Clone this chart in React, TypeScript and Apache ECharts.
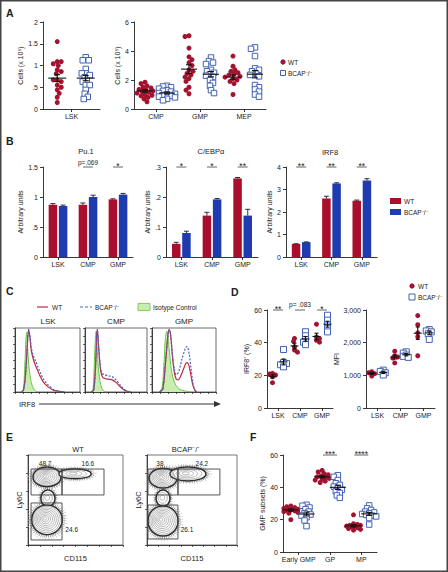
import React, { useEffect, useRef } from "react";
import * as echarts from "echarts";

const FONT = "'Liberation Sans', Arial, Helvetica, sans-serif";
const INK = "#222222";
const WT_RED = "#A3122E";
const BCAP_BLUE = "#4262B4";
const BAR_RED = "#A90F2D";
const BAR_BLUE = "#1E3CB0";
const HIST_RED = "#C0283C";
const HIST_BLUE = "#4A64C0";

// ---------------- Panel A ----------------
const aLskGroups = ["LSK"];
const aLskWT = [[1.55, 1.09, 1.09, 1.04, 1.0, 0.9, 0.86, 0.81, 0.67, 0.67, 0.63, 0.55, 0.5, 0.44, 0.36, 0.27, 0.15]];
const aLskBCAP = [[1.19, 1.12, 1.12, 0.92, 0.82, 0.82, 0.78, 0.73, 0.65, 0.63, 0.55, 0.55, 0.44, 0.35, 0.28, 0.23]];
const aLskWTMean = [0.71];
const aLskWTSem = [0.08];
const aLskBCAPMean = [0.71];
const aLskBCAPSem = [0.06];

const aProgGroups = ["CMP", "GMP", "MEP"];
const aProgWT = [
  [1.85, 1.75, 1.6, 1.5, 1.45, 1.35, 1.3, 1.25, 1.2, 1.15, 1.1, 1.0, 0.95, 0.9, 0.8, 0.7, 0.5],
  [5.05, 5.0, 4.2, 3.6, 3.4, 3.2, 3.0, 2.7, 2.6, 2.45, 2.35, 2.2, 2.1, 1.9, 1.5, 1.3, 1.05],
  [3.65, 2.95, 2.7, 2.6, 2.5, 2.4, 2.35, 2.25, 2.2, 2.1, 2.0, 1.9, 1.75, 1.0],
];
const aProgBCAP = [
  [1.6, 1.55, 1.5, 1.4, 1.3, 1.25, 1.2, 1.1, 1.05, 1.0, 0.95, 0.9, 0.85, 0.8, 0.7, 0.6],
  [3.55, 3.3, 3.2, 3.1, 2.7, 2.6, 2.5, 2.4, 2.3, 2.2, 2.0, 1.8, 1.6, 1.3, 1.1],
  [4.25, 4.15, 3.65, 2.8, 2.7, 2.6, 2.45, 2.35, 2.25, 1.65, 1.5, 1.35, 1.2, 1.0, 0.85],
];
const aProgWTMean = [1.25, 2.75, 2.2];
const aProgWTSem = [0.09, 0.3, 0.15];
const aProgBCAPMean = [1.1, 2.4, 2.4];
const aProgBCAPSem = [0.07, 0.18, 0.25];

// ---------------- Panel B ----------------
const bGroups = ["LSK", "CMP", "GMP"];
const pu1WT = [0.87, 0.87, 0.96];
const pu1WTErr = [0.02, 0.03, 0.01];
const pu1BCAP = [0.85, 1.0, 1.04];
const pu1BCAPErr = [0.015, 0.03, 0.02];
const pu1SigGroups = [1, 2];
const pu1SigLabels = ["p=.069", "*"];

const cebpWT = [0.044, 0.138, 0.262];
const cebpWTErr = [0.005, 0.011, 0.003];
const cebpBCAP = [0.08, 0.192, 0.138];
const cebpBCAPErr = [0.006, 0.003, 0.021];
const cebpSigGroups = [0, 1, 2];
const cebpSigLabels = ["*", "*", "**"];

const irf8WT = [0.58, 2.6, 2.5];
const irf8WTErr = [0.01, 0.1, 0.03];
const irf8BCAP = [0.66, 3.27, 3.4];
const irf8BCAPErr = [0.01, 0.03, 0.08];
const irf8SigGroups = [0, 1, 2];
const irf8SigLabels = ["**", "**", "**"];

// ---------------- Panel C (histograms, IRF8 axis 0-100, % of max) ----------------
const cIsoLSK = [[10, 0], [13, 5], [15, 40], [17, 85], [18, 93], [19, 80], [21, 45], [24, 20], [27, 8], [31, 2], [35, 0]];
const cWtLSK = [[10, 0], [13, 3], [16, 25], [19, 75], [21, 97], [23, 85], [25, 65], [28, 52], [31, 43], [35, 33], [39, 24], [44, 15], [51, 8], [59, 3], [68, 1], [76, 0]];
const cBcapLSK = [[10, 0], [13, 3], [16, 22], [19, 72], [21, 98], [23, 88], [25, 70], [28, 57], [31, 50], [35, 40], [39, 30], [44, 20], [51, 11], [59, 4], [68, 1], [76, 0]];

const cIsoCMP = [[10, 0], [13, 5], [15, 45], [17, 88], [18, 95], [19, 80], [21, 45], [24, 18], [27, 6], [31, 1], [35, 0]];
const cWtCMP = [[10, 0], [14, 3], [17, 40], [19, 90], [20, 97], [22, 70], [25, 35], [28, 24], [32, 21], [38, 20], [44, 19], [50, 15], [56, 9], [62, 4], [68, 1], [74, 0]];
const cBcapCMP = [[10, 0], [14, 3], [17, 38], [19, 88], [20, 98], [22, 72], [25, 38], [28, 29], [32, 27], [38, 25], [44, 24], [50, 19], [56, 12], [62, 5], [68, 1], [74, 0]];

const cIsoGMP = [[12, 0], [16, 8], [19, 50], [21, 85], [23, 95], [25, 85], [28, 55], [31, 30], [35, 15], [40, 7], [46, 3], [55, 1], [62, 0]];
const cWtGMP = [[12, 0], [17, 5], [21, 45], [25, 90], [27, 97], [29, 90], [32, 55], [35, 30], [38, 20], [41, 19], [44, 23], [47, 30], [50, 38], [53, 45], [55, 46], [58, 40], [61, 25], [64, 10], [67, 3], [70, 0]];
const cBcapGMP = [[12, 0], [17, 5], [21, 45], [25, 88], [27, 98], [29, 90], [32, 58], [35, 35], [38, 27], [41, 30], [44, 40], [47, 52], [50, 62], [53, 70], [55, 71], [58, 60], [61, 37], [64, 14], [67, 3], [70, 0]];

// ---------------- Panel D ----------------
const dGroups = ["LSK", "CMP", "GMP"];
const dIrfWT = [[21.2, 20.8, 20.2, 19.2, 15.5], [42.6, 40.8, 37.5, 35.5, 34.2], [51.3, 43.5, 42.5, 41.5, 40.3]];
const dIrfBCAP = [[35.8, 27.8, 27.2, 26.5, 25.2], [46.7, 44.2, 42, 40.3, 38.8], [56.8, 53.8, 50.8, 48.6, 46.6]];
const dIrfWTMean = [19.4, 38, 43.8];
const dIrfWTSem = [1.1, 1.7, 2.0];
const dIrfBCAPMean = [28.2, 42.3, 51.3];
const dIrfBCAPSem = [1.8, 1.4, 1.8];
const dIrfSigGroups = [0, 1, 2];
const dIrfSigLabels = ["**", "p= .083", "*"];

const dMfiWT = [[1110, 1080, 1050, 980], [1740, 1600, 1560, 1530, 1380], [2830, 2550, 2300, 2180, 1600]];
const dMfiBCAP = [[1160, 1120, 1080, 1010], [1720, 1680, 1620, 1580, 1550], [2400, 2360, 2330, 2270, 2100]];
const dMfiWTMean = [1060, 1560, 2290];
const dMfiWTSem = [30, 60, 190];
const dMfiBCAPMean = [1090, 1630, 2300];
const dMfiBCAPSem = [35, 35, 55];

// ---------------- Panel E (flow plots, axes 0-100) ----------------
// blobs: [cx, cy, rx, ry, contour levels]
const eBlobsWT = [[20, 75.6, 14.7, 11, 7], [49.5, 79, 17, 5.5, 3], [21, 52, 7.5, 9, 2], [20, 28, 16, 16.5, 8]];
const eBlobsBCAP = [[17.8, 74.4, 15.5, 11, 7], [45.5, 79, 20, 7.8, 4], [17.8, 52, 7.8, 9, 2], [17.8, 26.7, 16.7, 16.7, 8]];
// gates: [x1, y1, x2, y2]
const eGatesWT = [[3.2, 84.4, 35.8, 55.6], [35.8, 84.4, 80, 55.6], [3.2, 46.7, 35.8, 5.6]];
const eGatesBCAP = [[1.1, 84.4, 34.4, 55.6], [34.4, 84.4, 81, 55.6], [1.1, 44.4, 34.4, 6.7]];
const eGateTextWT = ["48.7", "16.6", "24.6"];
const eGateTextBCAP = ["38", "24.2", "26.1"];
const eGateTextPosWT = [[18, 91], [63, 91], [46, 16.7]];
const eGateTextPosBCAP = [[14.4, 91], [61, 91], [44.4, 16.7]];

// ---------------- Panel F ----------------
const fGroups = ["Early GMP", "GP", "MP"];
const fWT = [
  [28.5, 28, 27.5, 27, 26.5, 26, 26, 25.5, 25, 24.5, 24, 20],
  [50.5, 49.5, 48.5, 47.8, 47, 46.5, 46, 45.5, 45, 44.5, 43.8, 43],
  [23, 17.5, 17, 16.5, 16.5, 16, 16, 15.5, 15, 14.5, 14, 13.5],
];
const fBCAP = [
  [29.2, 28.6, 27.5, 26.5, 25, 24, 23.2, 22.5, 21.5, 19.5, 16],
  [47.5, 46.5, 44.5, 42.5, 41.5, 40.5, 39.5, 38.5, 37.5, 36.5, 35, 33.5],
  [28.8, 27, 26, 25, 24.5, 24, 23.5, 23, 22.5, 22, 21, 17],
];
const fWTMean = [26, 46.5, 16.2];
const fWTSem = [0.7, 0.6, 0.7];
const fBCAPMean = [23.5, 40, 23.6];
const fBCAPSem = [1.2, 1.3, 0.9];
const fSigGroups = [1, 2];
const fSigLabels = ["***", "****"];

// ---------------- helpers ----------------
const dotFmt = (v: number) => {
  const r = Math.round(v * 100) / 100;
  return r === 0 ? "0" : String(r).replace(/^0\./, ".");
};

function beeswarm(ys: number[], sep: number, half: number): number[] {
  const placed: number[][] = [];
  const res: number[] = [];
  const cands: number[] = [0];
  for (let k = 1; k <= Math.floor(half); k++) cands.push(k, -k);
  ys.forEach((y, idx) => {
    const order = idx % 2 ? cands.map((c) => -c) : cands;
    let chosen = 0;
    let best = -1;
    for (const c of order) {
      let minD = Infinity;
      for (const p of placed) {
        const dd = Math.hypot(p[0] - c, p[1] - y);
        if (dd < minD) minD = dd;
      }
      if (minD >= sep) {
        chosen = c;
        break;
      }
      if (minD > best) {
        best = minD;
        chosen = c;
      }
    }
    placed.push([chosen, y]);
    res.push(chosen);
  });
  return res;
}

function swarmRender(vals: number[][], kind: string, size: number, color: string, half: number, sep: number) {
  const cache: Record<number, number[]> = {};
  return (params: any, api: any) => {
    const sub = api.value(0);
    const v = api.value(1);
    const g = api.value(2);
    const i = api.value(3);
    const base = api.coord([sub, v]);
    if (!cache[g]) cache[g] = beeswarm(vals[g].map((val) => api.coord([sub, val])[1]), sep, half);
    const x = base[0] + cache[g][i];
    const y = base[1];
    if (kind === "circle") return { type: "circle", shape: { cx: x, cy: y, r: size / 2 }, style: { fill: color } };
    return {
      type: "rect",
      shape: { x: x - size / 2, y: y - size / 2, width: size, height: size },
      style: { fill: "#ffffff", stroke: color, lineWidth: 1 },
    };
  };
}

const meanSem = (w: number, cap: number) => (params: any, api: any) => {
  const x = api.value(0);
  const m = api.value(1);
  const s = api.value(2);
  const c = api.coord([x, m]);
  const t = api.coord([x, m + s]);
  const b = api.coord([x, m - s]);
  const st = { stroke: "#111111", lineWidth: 1.1 };
  return {
    type: "group",
    children: [
      { type: "line", shape: { x1: c[0] - w / 2, y1: c[1], x2: c[0] + w / 2, y2: c[1] }, style: st },
      { type: "line", shape: { x1: c[0], y1: t[1], x2: c[0], y2: b[1] }, style: st },
      { type: "line", shape: { x1: c[0] - cap / 2, y1: t[1], x2: c[0] + cap / 2, y2: t[1] }, style: st },
      { type: "line", shape: { x1: c[0] - cap / 2, y1: b[1], x2: c[0] + cap / 2, y2: b[1] }, style: st },
    ],
  };
};

const errUp = (offset: number) => (params: any, api: any) => {
  const g = api.value(0);
  const v = api.value(1);
  const e = api.value(2);
  const b = api.coord([g, v]);
  const t = api.coord([g, v + e]);
  const x = b[0] + offset;
  const st = { stroke: "#1a1a1a", lineWidth: 0.9 };
  return {
    type: "group",
    children: [
      { type: "line", shape: { x1: x, y1: b[1], x2: x, y2: t[1] }, style: st },
      { type: "line", shape: { x1: x - 2.5, y1: t[1], x2: x + 2.5, y2: t[1] }, style: st },
    ],
  };
};

const textStyle = (text: string, size: number, align: string, vAlign: string, extra: any = {}) => ({
  text,
  fill: INK,
  fontSize: size,
  fontFamily: FONT,
  align,
  verticalAlign: vAlign,
  textAlign: align,
  textVerticalAlign: vAlign,
  ...extra,
});

const sigRender = (labels: string[], halfW: number, pOff: number) => (params: any, api: any) => {
  const c = api.coord([api.value(0), api.value(1)]);
  const lab = labels[params.dataIndex];
  const isStar = lab.charAt(0) === "*";
  return {
    type: "group",
    children: [
      { type: "line", shape: { x1: c[0] - halfW, y1: c[1], x2: c[0] + halfW, y2: c[1] }, style: { stroke: "#555555", lineWidth: 0.9 } },
      {
        type: "text",
        x: c[0],
        y: isStar ? c[1] - 0.8 : c[1] - pOff,
        style: textStyle(lab, isStar ? 8.5 : 6.5, "center", isStar ? "middle" : "bottom"),
      },
    ],
  };
};

const blobRender = (mode: string) => (params: any, api: any) => {
  const c = api.coord([api.value(0), api.value(1)]);
  const s = api.size([api.value(2), api.value(3)]);
  const levels = api.value(4);
  if (mode === "spray")
    return {
      type: "group",
      children: [
        {
          type: "ellipse",
          shape: { cx: c[0], cy: c[1], rx: s[0] * 1.25, ry: s[1] * 1.25 },
          style: { fill: "none", stroke: "#b8b8b8", lineWidth: 3, lineDash: [0.5, 2.2] },
        },
        {
          type: "ellipse",
          shape: { cx: c[0], cy: c[1], rx: s[0] * 1.1, ry: s[1] * 1.1 },
          style: { fill: "none", stroke: "#777777", lineWidth: 2.5, lineDash: [0.6, 1.2] },
        },
      ],
    };
  if (mode === "outer")
    return {
      type: "ellipse",
      shape: { cx: c[0], cy: c[1], rx: s[0], ry: s[1] },
      style: { fill: "#ffffff", stroke: "#2e2e2e", lineWidth: 1.5 },
    };
  const children: any[] = [];
  for (let k = 1; k <= levels; k++) {
    const f = 1 - k / (levels + 1);
    children.push({
      type: "ellipse",
      shape: { cx: c[0] - (1 - f) * s[0] * 0.15, cy: c[1] - (1 - f) * s[1] * 0.1, rx: s[0] * f, ry: s[1] * f },
      style: { fill: "none", stroke: "#808080", lineWidth: 0.55 },
    });
  }
  return { type: "group", children };
};

const gateRender = (params: any, api: any) => {
  const p1 = api.coord([api.value(0), api.value(1)]);
  const p2 = api.coord([api.value(2), api.value(3)]);
  return {
    type: "rect",
    shape: { x: Math.min(p1[0], p2[0]), y: Math.min(p1[1], p2[1]), width: Math.abs(p2[0] - p1[0]), height: Math.abs(p2[1] - p1[1]) },
    style: { fill: "none", stroke: "#444444", lineWidth: 0.9 },
  };
};

const gateTextRender = (labels: string[]) => (params: any, api: any) => {
  const c = api.coord([api.value(0), api.value(1)]);
  return { type: "text", x: c[0], y: c[1], style: textStyle(labels[params.dataIndex], 6.5, "center", "middle") };
};

function buildOption() {
  const grid: any[] = [];
  const xAxis: any[] = [];
  const yAxis: any[] = [];
  const series: any[] = [];
  const axisLine = { show: true, onZero: false, lineStyle: { color: INK, width: 0.9 } };
  const axisTick = { show: true, length: 3, lineStyle: { color: INK, width: 0.9 } };
  const label = { color: INK, fontSize: 7, fontFamily: FONT };

  const addGrid = (left: number, top: number, width: number, height: number, extra: any = {}) => {
    grid.push({ left, top, width, height, containLabel: false, outerBoundsMode: "none", ...extra });
    return grid.length - 1;
  };
  const addCatX = (gi: number, data: string[], show = true) => {
    xAxis.push(
      show
        ? {
            type: "category",
            gridIndex: gi,
            data,
            position: "bottom",
            axisLine,
            axisTick: { ...axisTick, alignWithLabel: true },
            axisLabel: { ...label, interval: 0, margin: 4 },
            splitLine: { show: false },
          }
        : { type: "category", gridIndex: gi, data, show: false, position: "bottom" }
    );
    return xAxis.length - 1;
  };
  const addValY = (gi: number, min: number, max: number, interval: number, name: string, nameGap: number, fmt?: any) => {
    yAxis.push({
      type: "value",
      gridIndex: gi,
      min,
      max,
      interval,
      name,
      nameLocation: "middle",
      nameGap,
      nameRotate: 90,
      nameTextStyle: { ...label },
      axisLine,
      axisTick,
      axisLabel: { ...label, margin: 5, formatter: fmt },
      splitLine: { show: false },
    });
    return yAxis.length - 1;
  };

  const scatterPanel = (p: any) => {
    const gi = addGrid(p.left, p.top, p.width, p.height);
    const vx = addCatX(gi, p.groups);
    const subs = p.groups.flatMap((g: string) => [g + " WT", g + " BCAP"]);
    const sx = addCatX(gi, subs, false);
    const yi = addValY(gi, p.min, p.max, p.interval, p.name, p.nameGap, p.fmt);
    const mk = (vals: number[][], off: number, kind: string, color: string, size: number) => ({
      type: "custom",
      xAxisIndex: sx,
      yAxisIndex: yi,
      z: kind === "rect" ? 4 : 3,
      clip: false,
      renderItem: swarmRender(vals, kind, size, color, p.half, p.sep),
      data: vals.flatMap((arr, g) => arr.map((v, i) => [2 * g + off, v, g, i])),
    });
    series.push(mk(p.wt, 0, "circle", WT_RED, p.wtSize));
    series.push(mk(p.bcap, 1, "rect", BCAP_BLUE, p.bcapSize));
    series.push({
      type: "custom",
      xAxisIndex: sx,
      yAxisIndex: yi,
      z: 6,
      clip: false,
      renderItem: meanSem(p.meanW, p.capW),
      data: [
        ...p.wtMean.map((m: number, g: number) => [2 * g, m, p.wtSem[g]]),
        ...p.bcapMean.map((m: number, g: number) => [2 * g + 1, m, p.bcapSem[g]]),
      ],
    });
    if (p.sigGroups)
      series.push({
        type: "custom",
        xAxisIndex: vx,
        yAxisIndex: yi,
        z: 6,
        clip: false,
        renderItem: sigRender(p.sigLabels, p.sigHalf, p.pOff),
        data: p.sigGroups.map((g: number) => [g, p.max]),
      });
  };

  const barPanel = (p: any) => {
    const gi = addGrid(p.left, p.top, p.width, p.height);
    const vx = addCatX(gi, bGroups);
    const yi = addValY(gi, 0, p.max, p.interval, "Arbitrary units", p.nameGap, dotFmt);
    series.push({ type: "bar", xAxisIndex: vx, yAxisIndex: yi, data: p.wt, barWidth: 8.5, barGap: "20%", itemStyle: { color: BAR_RED } });
    series.push({ type: "bar", xAxisIndex: vx, yAxisIndex: yi, data: p.bcap, barWidth: 8.5, barGap: "20%", itemStyle: { color: BAR_BLUE } });
    series.push({ type: "custom", xAxisIndex: vx, yAxisIndex: yi, z: 5, clip: false, renderItem: errUp(-5.1), data: p.wt.map((v: number, g: number) => [g, v, p.wtErr[g]]) });
    series.push({ type: "custom", xAxisIndex: vx, yAxisIndex: yi, z: 5, clip: false, renderItem: errUp(5.1), data: p.bcap.map((v: number, g: number) => [g, v, p.bcapErr[g]]) });
    series.push({
      type: "custom",
      xAxisIndex: vx,
      yAxisIndex: yi,
      z: 6,
      clip: false,
      renderItem: sigRender(p.sigLabels, 5, 1.5),
      data: p.sigGroups.map((g: number) => [g, p.max]),
    });
  };

  const histPanel = (left: number, width: number, iso: number[][], wt: number[][], bcap: number[][]) => {
    const gi = addGrid(left, 328, width, 64, { show: true, borderColor: "#444444", borderWidth: 0.8, backgroundColor: "transparent" });
    const ax = {
      gridIndex: gi,
      type: "value",
      min: 0,
      max: 100,
      axisLine: { show: true, onZero: false, lineStyle: { color: INK, width: 0.8 } },
      axisTick: { show: true, length: 2, lineStyle: { color: INK, width: 0.7 } },
      axisLabel: { show: false },
      splitLine: { show: false },
    };
    xAxis.push({ ...ax, interval: 12.5 });
    yAxis.push({ ...ax, interval: 12.5 });
    const xi = xAxis.length - 1;
    const yi = yAxis.length - 1;
    series.push({
      type: "line", xAxisIndex: xi, yAxisIndex: yi, data: iso, symbol: "none", smooth: 0.3,
      lineStyle: { color: "#6CC644", width: 1 }, areaStyle: { color: "#C9EDB0", opacity: 1 }, z: 2,
    });
    series.push({
      type: "line", xAxisIndex: xi, yAxisIndex: yi, data: wt, symbol: "none", smooth: 0.3,
      lineStyle: { color: HIST_RED, width: 1.2 }, z: 3,
    });
    series.push({
      type: "line", xAxisIndex: xi, yAxisIndex: yi, data: bcap, symbol: "none", smooth: 0.3,
      lineStyle: { color: HIST_BLUE, width: 1.2, type: [2, 1.5] }, z: 4,
    });
  };

  const flowPanel = (left: number, width: number, blobs: number[][], gates: number[][], gText: string[], gPos: number[][]) => {
    const gi = addGrid(left, 455, width, 90, { show: true, borderColor: "#555555", borderWidth: 0.8, backgroundColor: "transparent" });
    xAxis.push({
      gridIndex: gi, type: "value", min: 0, max: 100, interval: 12.5,
      name: "CD115", nameLocation: "middle", nameGap: 9, nameTextStyle: { ...label, fontSize: 7.5 },
      axisLine: { show: true, onZero: false, lineStyle: { color: INK, width: 0.8 } },
      axisTick: { show: true, length: 2, lineStyle: { color: INK, width: 0.7 } },
      axisLabel: { show: false }, splitLine: { show: false },
    });
    yAxis.push({
      gridIndex: gi, type: "value", min: 0, max: 100, interval: 20,
      name: "Ly6C", nameLocation: "middle", nameGap: 5, nameRotate: 90, nameTextStyle: { ...label, fontSize: 7.5 },
      axisLine: { show: true, onZero: false, lineStyle: { color: INK, width: 0.8 } },
      axisTick: { show: true, length: 2, lineStyle: { color: INK, width: 0.7 } },
      axisLabel: { show: false }, splitLine: { show: false },
    });
    const xi = xAxis.length - 1;
    const yi = yAxis.length - 1;
    series.push({ type: "custom", xAxisIndex: xi, yAxisIndex: yi, z: 1, clip: true, renderItem: blobRender("spray"), data: blobs });
    series.push({ type: "custom", xAxisIndex: xi, yAxisIndex: yi, z: 2, clip: true, renderItem: blobRender("outer"), data: blobs });
    series.push({ type: "custom", xAxisIndex: xi, yAxisIndex: yi, z: 3, clip: true, renderItem: blobRender("inner"), data: blobs });
    series.push({ type: "custom", xAxisIndex: xi, yAxisIndex: yi, z: 4, renderItem: gateRender, data: gates, encode: { x: [0, 2], y: [1, 3] } });
    series.push({ type: "custom", xAxisIndex: xi, yAxisIndex: yi, z: 5, renderItem: gateTextRender(gText), data: gPos });
  };

  // A
  scatterPanel({
    left: 43, top: 22, width: 57, height: 87, groups: aLskGroups, min: 0, max: 2, interval: 0.5,
    name: "Cells (x 10\u2075)", nameGap: 19, fmt: dotFmt, wt: aLskWT, bcap: aLskBCAP,
    wtMean: aLskWTMean, wtSem: aLskWTSem, bcapMean: aLskBCAPMean, bcapSem: aLskBCAPSem,
    wtSize: 5, bcapSize: 5.5, half: 9, sep: 4, meanW: 18, capW: 6,
  });
  scatterPanel({
    left: 134, top: 22, width: 132, height: 87, groups: aProgGroups, min: 0, max: 6, interval: 2,
    name: "Cells (x 10\u2075)", nameGap: 13, wt: aProgWT, bcap: aProgBCAP,
    wtMean: aProgWTMean, wtSem: aProgWTSem, bcapMean: aProgBCAPMean, bcapSem: aProgBCAPSem,
    wtSize: 5, bcapSize: 5.5, half: 8, sep: 4, meanW: 16, capW: 6,
  });
  // B
  barPanel({ left: 43, top: 167, width: 90, height: 90, max: 1.5, interval: 0.5, nameGap: 18, wt: pu1WT, wtErr: pu1WTErr, bcap: pu1BCAP, bcapErr: pu1BCAPErr, sigGroups: pu1SigGroups, sigLabels: pu1SigLabels });
  barPanel({ left: 166, top: 167, width: 92, height: 90, max: 0.3, interval: 0.1, nameGap: 14, wt: cebpWT, wtErr: cebpWTErr, bcap: cebpBCAP, bcapErr: cebpBCAPErr, sigGroups: cebpSigGroups, sigLabels: cebpSigLabels });
  barPanel({ left: 286, top: 167, width: 91, height: 90, max: 4, interval: 1, nameGap: 12, wt: irf8WT, wtErr: irf8WTErr, bcap: irf8BCAP, bcapErr: irf8BCAPErr, sigGroups: irf8SigGroups, sigLabels: irf8SigLabels });
  // C
  histPanel(15, 65, cIsoLSK, cWtLSK, cBcapLSK);
  histPanel(85, 62, cIsoCMP, cWtCMP, cBcapCMP);
  histPanel(152, 64, cIsoGMP, cWtGMP, cBcapGMP);
  // D
  scatterPanel({
    left: 267, top: 310, width: 66, height: 98, groups: dGroups, min: 0, max: 60, interval: 20,
    name: "IRF8\u207A (%)", nameGap: 17, wt: dIrfWT, bcap: dIrfBCAP,
    wtMean: dIrfWTMean, wtSem: dIrfWTSem, bcapMean: dIrfBCAPMean, bcapSem: dIrfBCAPSem,
    wtSize: 5, bcapSize: 6, half: 4, sep: 3, meanW: 8, capW: 4,
    sigGroups: dIrfSigGroups, sigLabels: dIrfSigLabels, sigHalf: 5, pOff: 2,
  });
  scatterPanel({
    left: 366, top: 310, width: 69, height: 98, groups: dGroups, min: 0, max: 3000, interval: 1000,
    name: "MFI", nameGap: 20, wt: dMfiWT, bcap: dMfiBCAP,
    wtMean: dMfiWTMean, wtSem: dMfiWTSem, bcapMean: dMfiBCAPMean, bcapSem: dMfiBCAPSem,
    wtSize: 5, bcapSize: 6, half: 4, sep: 3, meanW: 8, capW: 4,
  });
  // E
  flowPanel(28, 95, eBlobsWT, eGatesWT, eGateTextWT, eGateTextPosWT);
  flowPanel(147, 90, eBlobsBCAP, eGatesBCAP, eGateTextBCAP, eGateTextPosBCAP);
  // F
  scatterPanel({
    left: 283, top: 455, width: 94, height: 97, groups: fGroups, min: 0, max: 60, interval: 20,
    name: "GMP subsets (%)", nameGap: 16, wt: fWT, bcap: fBCAP,
    wtMean: fWTMean, wtSem: fWTSem, bcapMean: fBCAPMean, bcapSem: fBCAPSem,
    wtSize: 5, bcapSize: 5.5, half: 7, sep: 3.5, meanW: 16, capW: 6,
    sigGroups: fSigGroups, sigLabels: fSigLabels, sigHalf: 7, pOff: 2,
  });

  const T = (x: number, y: number, text: string, size = 7, align = "left", extra: any = {}) => ({
    type: "text", x, y, silent: true, style: textStyle(text, size, align, "middle", extra),
  });
  const bold = { fontWeight: "bold" };
  const BCAP = "BCAP\u207B/\u207B";
  const graphics: any[] = [
    { type: "rect", shape: { x: 0.75, y: 0.75, width: 446.5, height: 570.5 }, style: { fill: "none", stroke: "#444444", lineWidth: 1.5 }, silent: true },
    T(6, 13, "A", 10.5, "left", bold),
    T(6, 141, "B", 10.5, "left", bold),
    T(6, 291, "C", 10.5, "left", bold),
    T(231, 292, "D", 10.5, "left", bold),
    T(6, 437, "E", 10.5, "left", bold),
    T(250, 437, "F", 10.5, "left", bold),
    // A legend
    { type: "circle", shape: { cx: 283, cy: 62, r: 2.6 }, style: { fill: WT_RED } },
    T(288, 62, "WT", 6.5),
    { type: "rect", shape: { x: 280.5, y: 70.5, width: 5, height: 5 }, style: { fill: "#fff", stroke: BCAP_BLUE, lineWidth: 1 } },
    T(288, 73, BCAP, 6.5),
    // B titles & legend
    T(86, 151, "Pu.1", 7.5, "center"),
    T(211, 151, "C/EBP\u03B1", 7.5, "center"),
    T(330, 152, "IRF8", 7.5, "center"),
    { type: "rect", shape: { x: 390, y: 198, width: 11, height: 6 }, style: { fill: BAR_RED } },
    T(404, 201, "WT", 6.5),
    { type: "rect", shape: { x: 390, y: 209, width: 11, height: 6 }, style: { fill: BAR_BLUE } },
    T(404, 212, BCAP, 6.5),
    // C legend
    { type: "line", shape: { x1: 37, y1: 307, x2: 48, y2: 307 }, style: { stroke: HIST_RED, lineWidth: 1.2 } },
    T(52, 307, "WT", 6.5),
    { type: "line", shape: { x1: 80, y1: 307, x2: 92, y2: 307 }, style: { stroke: HIST_BLUE, lineWidth: 1.2, lineDash: [3, 2] } },
    T(95, 307, BCAP, 6.5),
    { type: "rect", shape: { x: 138, y: 303.5, width: 12, height: 7 }, style: { fill: "#C9EDB0", stroke: "#6CC644", lineWidth: 0.8 } },
    T(153, 307, "Isotype Control", 6.5),
    T(48, 321, "LSK", 8, "center"),
    T(116, 321, "CMP", 8, "center"),
    T(184, 321, "GMP", 8, "center"),
    T(19, 404, "IRF8", 7.5),
    { type: "line", shape: { x1: 39, y1: 404, x2: 216, y2: 404 }, style: { stroke: "#333", lineWidth: 1 } },
    { type: "polygon", shape: { points: [[214, 401], [221, 404], [214, 407]] }, style: { fill: "#333" } },
    // D legend
    { type: "circle", shape: { cx: 412, cy: 286, r: 2.6 }, style: { fill: WT_RED } },
    T(418, 286, "WT", 6.5),
    { type: "rect", shape: { x: 409, y: 294, width: 6, height: 6 }, style: { fill: "#fff", stroke: BCAP_BLUE, lineWidth: 1 } },
    T(418, 297, BCAP, 6.5),
    // E titles
    T(78, 449, "WT", 7.5, "center"),
    T(186, 449, BCAP, 7.5, "center"),
  ];

  return { animation: false, backgroundColor: "#ffffff", grid, xAxis, yAxis, series, graphic: { elements: graphics } };
}

export default function App() {
  const ref = useRef<HTMLDivElement>(null);
  useEffect(() => {
    if (!ref.current) return;
    const chart = echarts.init(ref.current, null, { renderer: "svg" });
    chart.setOption(buildOption() as any);
    return () => chart.dispose();
  }, []);
  return <div ref={ref} style={{ position: "absolute", left: 0, top: 0, width: 448, height: 572, background: "#fff" }} />;
}
